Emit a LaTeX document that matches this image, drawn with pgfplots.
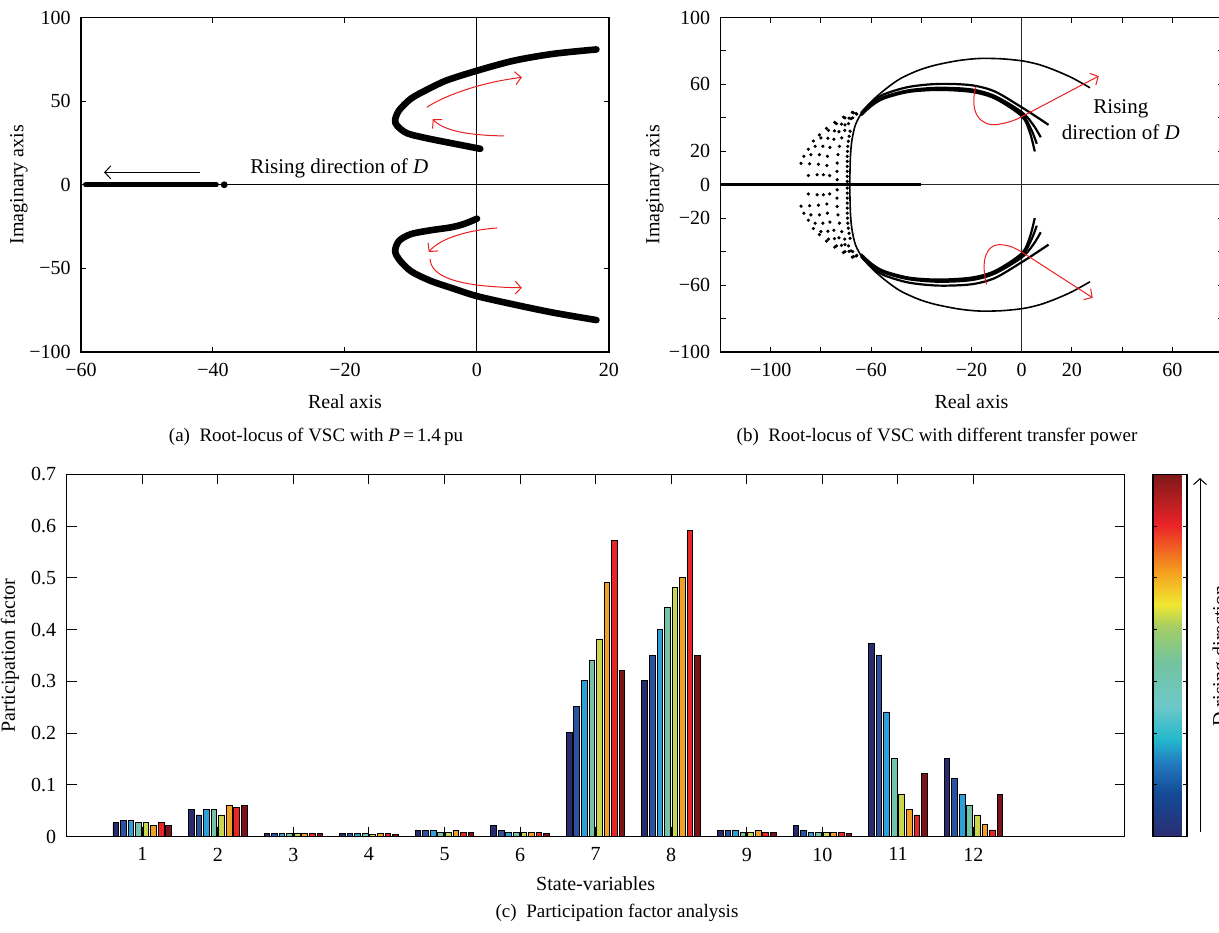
\documentclass[border=0pt]{standalone}
\usepackage{fontspec}
\setmainfont{Liberation Serif}
\usepackage{pgfplots}
\pgfplotsset{compat=1.18}
\usepackage{pgfplotstable}
\usetikzlibrary{arrows.meta}

\definecolor{c1}{RGB}{40,44,110}
\definecolor{c2}{RGB}{42,82,160}
\definecolor{c3}{RGB}{45,160,215}
\definecolor{c4}{RGB}{115,196,168}
\definecolor{c5}{RGB}{200,215,75}
\definecolor{c6}{RGB}{243,160,40}
\definecolor{c7}{RGB}{232,38,38}
\definecolor{c8}{RGB}{122,20,24}
\definecolor{annred}{RGB}{235,30,30}

\pgfplotstableread{
x s1 s2 s3 s4 s5 s6 s7 s8
1 0.027 0.031 0.031 0.027 0.027 0.022 0.027 0.022
2 0.052 0.042 0.052 0.052 0.042 0.061 0.057 0.061
3 0.007 0.007 0.007 0.007 0.007 0.007 0.007 0.007
4 0.007 0.007 0.007 0.007 0.004 0.007 0.007 0.005
5 0.012 0.012 0.012 0.009 0.009 0.012 0.009 0.009
6 0.022 0.012 0.009 0.009 0.009 0.009 0.009 0.007
7 0.202 0.251 0.302 0.341 0.382 0.491 0.572 0.321
8 0.302 0.350 0.401 0.443 0.482 0.501 0.591 0.350
9 0.012 0.012 0.012 0.009 0.009 0.012 0.009 0.009
10 0.022 0.012 0.009 0.009 0.009 0.009 0.009 0.007
11 0.373 0.350 0.241 0.151 0.081 0.052 0.042 0.122
12 0.151 0.112 0.081 0.061 0.042 0.023 0.013 0.081
}\pfdata

\tikzset{ann/.style={annred, line width=0.5pt, -{Straight Barb[length=3pt,width=6.5pt]}}}
\pgfplotsset{
  colormap={pfmap}{rgb255(0cm)=(43,45,115); rgb255(12cm)=(20,75,150); rgb255(20cm)=(35,120,190); rgb255(27cm)=(35,185,205); rgb255(36cm)=(110,200,200); rgb255(48cm)=(115,195,160); rgb255(58cm)=(165,205,100); rgb255(64cm)=(240,232,50); rgb255(73cm)=(245,160,30); rgb255(86cm)=(235,35,40); rgb255(100cm)=(125,25,25)},
  base/.style={scale only axis, anchor=south west,
    axis line style={line width=0.6pt},
    tick style={line width=0.5pt, black},
    major tick length=2.5pt,
    tick label style={font=\fontsize{10}{12}\selectfont},
    label style={font=\fontsize{10}{12}\selectfont},
    xticklabel style={yshift=-2pt},
    yticklabel style={xshift=-1.7pt}},
  dotmark/.style={only marks, mark=*, mark size=0.6pt, mark options={fill=black, draw=none}}
}

\begin{document}
\begin{tikzpicture}
\useasboundingbox (0,0) rectangle (609.5pt,-466pt);

% ---------------- (a) ----------------
\begin{axis}[base, at={(40.5pt,-176pt)}, width=264pt, height=167.25pt,
  xmin=-60, xmax=20, ymin=-100, ymax=100,
  xtick={-60,-40,-20,0,20}, xticklabels={−60,−40,−20,0,20},
  ytick={-100,-50,0,50,100}, yticklabels={−100,−50,0,50,100},
  xlabel={Real axis}, ylabel={Imaginary axis},
  xlabel style={at={(axis description cs:0.5,-0.1495)}, anchor=center},
  ylabel style={at={(axis description cs:-0.1174,0.5)}, anchor=center}]
\addplot[line width=0.5pt, black] coordinates {(-60,0) (20,0)};
\addplot[line width=0.5pt, black] coordinates {(0,-100) (0,100)};
\addplot[line width=2.6pt, black, line cap=round] coordinates {(-59.3,0) (-39.5,0)};
\addplot[only marks, mark=*, mark size=1.5pt, mark options={fill=black, draw=none}] coordinates {(-38.3,0)};
\addplot[line width=3.3pt, black, smooth, line cap=round] coordinates {
(0.5,21.5) (-3.4,24.5) (-7.6,27.8) (-10.6,30.8) (-12.1,35.3) (-12.4,38.8) (-11.8,44.5) (-10,51.5) (-7.6,56.8) (-4.6,62.4) (0,68.2) (5.6,74.2) (11.6,78.3) (18.1,80.9)};
\addplot[line width=3.3pt, black, smooth, line cap=round] coordinates {
(0,-20.3) (-2,-23.5) (-4,-25.5) (-7,-27.2) (-10,-29.5) (-11.8,-33.5) (-12.4,-39.5) (-11.8,-44.7) (-10,-51.7) (-7,-57.5) (-3.4,-62.3) (0,-66.6) (5.6,-71.6) (11.6,-76.5) (18.1,-80.9)};
\draw[line width=0.5pt, -{Straight Barb[length=3pt,width=6.5pt]}] (axis cs:-42,7.4) -- (axis cs:-56.5,7.4);
\node[anchor=west, inner sep=0pt, font=\fontsize{10.5}{12}\selectfont] at (axis cs:-34.4,10) {Rising direction of \textit{D}};
\draw[ann] (axis cs:-7.6,46.3) .. controls (axis cs:-5.5,52) and (axis cs:0,61) .. (axis cs:6.8,64.2);
\draw[ann] (axis cs:4.1,29.2) .. controls (axis cs:-1,29.5) and (axis cs:-5,32) .. (axis cs:-6.7,39.2);
\draw[ann] (axis cs:3.1,-25.8) .. controls (axis cs:-1,-27) and (axis cs:-5.5,-31.5) .. (axis cs:-7.3,-40.2);
\draw[ann] (axis cs:-7.1,-44.3) .. controls (axis cs:-7,-55) and (axis cs:-3,-61) .. (axis cs:6.8,-61.6);
\end{axis}

% ---------------- (b) ----------------
\begin{axis}[base, at={(360.25pt,-176pt)}, width=251pt, height=167.25pt,
  xmin=-120, xmax=80, ymin=-100, ymax=100,
  xtick={-120,-100,...,80}, xticklabels={,−100,,−60,,−20,0,20,,60,},
  ytick={-100,-80,...,100}, yticklabels={−100,,−60,,−20,0,20,,60,,100},
  xlabel={Real axis}, ylabel={Imaginary axis},
  xlabel style={at={(axis description cs:0.5,-0.1495)}, anchor=center},
  ylabel style={at={(axis description cs:-0.1305,0.5)}, anchor=center}]
\addplot[line width=0.5pt, black!85] coordinates {(-120,0) (80,0)};
\addplot[line width=0.5pt, black!85] coordinates {(0,-100) (0,100)};
\addplot[line width=1.4pt, black] coordinates {(-120,0) (-40,0)};
% outer locus
\addplot[line width=0.8pt, black, smooth] coordinates {
(27.2,58) (20,64) (13,68.6) (7,71.8) (0.5,74) (-8,75.3) (-16.9,75.5) (-25,74.3) (-34.2,71.6) (-41,68.5) (-48.3,63.5) (-54,57.5) (-59.4,50.5) (-63.5,43.5) (-66.2,36) (-67.6,27) (-68.2,18) (-68.4,9) (-68.5,0) (-68.4,-9) (-68.2,-18) (-67.6,-27) (-66.2,-36) (-63.5,-43.5) (-59.4,-50.5) (-54,-57.5) (-48.3,-63.5) (-41,-68.5) (-34.2,-71.6) (-25,-74.3) (-16.9,-75.5) (-8,-75.3) (0.5,-74) (7,-71.8) (13,-68.6) (20,-64) (27.2,-58)};
% inner loci, upper
\addplot[line width=1.1pt, black, smooth] coordinates {(-64,43) (-60,49) (-55,54) (-45,58.5) (-33,60.3) (-20,59.5) (-10.6,55.7) (0,46.3) (5.5,41) (10.7,35.8)};
\addplot[line width=1.1pt, black, smooth] coordinates {(-64,42.5) (-60,48) (-55,52.5) (-45,56.5) (-33,58) (-20,57) (-10.6,53) (0,43.5) (4.5,36) (7.6,28.4)};
\addplot[line width=1.1pt, black, smooth] coordinates {(-64,42) (-60,47.5) (-55,52) (-45,56) (-33,57.4) (-20,56.3) (-10.6,52.3) (0,42.3) (3.8,33) (6,24.5)};
\addplot[line width=1.1pt, black, smooth] coordinates {(-64,41.5) (-60,47) (-55,51.5) (-45,55.5) (-33,56.7) (-20,55.5) (-10.6,51.5) (0,41) (3.3,31) (5.2,19.9)};
% inner loci, lower
\addplot[line width=1.1pt, black, smooth] coordinates {(-64,-43) (-60,-49) (-55,-54) (-45,-58.5) (-33,-60.3) (-20,-59.5) (-10.6,-55.7) (0,-46.3) (5.5,-41) (10.7,-35.8)};
\addplot[line width=1.1pt, black, smooth] coordinates {(-64,-42.5) (-60,-48) (-55,-52.5) (-45,-56.5) (-33,-58) (-20,-57) (-10.6,-53) (0,-43.5) (4.5,-36) (7.6,-28.4)};
\addplot[line width=1.1pt, black, smooth] coordinates {(-64,-42) (-60,-47.5) (-55,-52) (-45,-56) (-33,-57.4) (-20,-56.3) (-10.6,-52.3) (0,-42.3) (3.8,-33) (6,-24.5)};
\addplot[line width=1.1pt, black, smooth] coordinates {(-64,-41.5) (-60,-47) (-55,-51.5) (-45,-55.5) (-33,-56.7) (-20,-55.5) (-10.6,-51.5) (0,-41) (3.3,-31) (5.2,-19.9)};
% sparse dotted branches
\addplot[dotmark] coordinates {
(-85,5.5) (-87.9,12.8) (-86.8,17) (-85,21.2) (-83,26.2) (-80.6,29.8) (-77.8,33.7) (-74.5,37.3) (-71,40.5) (-67.5,43.3)
(-81.5,6) (-84.5,12.5) (-84,18) (-82.3,23) (-80,28) (-77,32.5) (-73.8,36.5) (-70.4,40) (-67,43)
(-79,6) (-81,12.2) (-80.6,18) (-79.2,23) (-77.2,27.8) (-74.6,32.2) (-71.8,36.2) (-68.8,39.8) (-66,42.6)
(-76.5,5.5) (-77.6,11.5) (-77.4,17) (-76.4,22.3) (-74.8,27.2) (-72.8,31.7) (-70.4,35.8) (-68,39.5) (-65.7,42.2)
(-73.5,3) (-73.6,8) (-73.5,13) (-73.2,18) (-72.6,23) (-71.7,28) (-70.5,32.5) (-69,36.5) (-67.3,40)
(-69.5,2) (-69.5,5) (-69.5,8) (-69.5,11) (-69.5,14) (-69.5,17) (-69.4,20) (-69.3,23) (-69.1,26) (-68.8,29) (-68.4,32)
(-85,-5.5) (-87.9,-12.8) (-86.8,-17) (-85,-21.2) (-83,-26.2) (-80.6,-29.8) (-77.8,-33.7) (-74.5,-37.3) (-71,-40.5) (-67.5,-43.3)
(-81.5,-6) (-84.5,-12.5) (-84,-18) (-82.3,-23) (-80,-28) (-77,-32.5) (-73.8,-36.5) (-70.4,-40) (-67,-43)
(-79,-6) (-81,-12.2) (-80.6,-18) (-79.2,-23) (-77.2,-27.8) (-74.6,-32.2) (-71.8,-36.2) (-68.8,-39.8) (-66,-42.6)
(-76.5,-5.5) (-77.6,-11.5) (-77.4,-17) (-76.4,-22.3) (-74.8,-27.2) (-72.8,-31.7) (-70.4,-35.8) (-68,-39.5) (-65.7,-42.2)
(-73.5,-3) (-73.6,-8) (-73.5,-13) (-73.2,-18) (-72.6,-23) (-71.7,-28) (-70.5,-32.5) (-69,-36.5) (-67.3,-40)
(-69.5,-2) (-69.5,-5) (-69.5,-8) (-69.5,-11) (-69.5,-14) (-69.5,-17) (-69.4,-20) (-69.3,-23) (-69.1,-26) (-68.8,-29) (-68.4,-32)};
\draw[ann] (axis cs:-18.2,59) .. controls (axis cs:-21,44) and (axis cs:-17,35) .. (axis cs:-10,36) .. controls (axis cs:-6,36.8) and (axis cs:-3,38.3) .. (axis cs:0,40.7) -- (axis cs:30.7,65);
\draw[ann] (axis cs:-14,-59.6) .. controls (axis cs:-16.5,-45) and (axis cs:-14,-36) .. (axis cs:-9,-35.8) .. controls (axis cs:-5,-36) and (axis cs:-3,-37.5) .. (axis cs:0,-40.2) -- (axis cs:28.3,-67.6);
\node[align=center, inner sep=0pt, font=\fontsize{10.5}{12.85}\selectfont] at (axis cs:39.5,39) {Rising\\direction of \textit{D}};
\end{axis}

% ---------------- (c) ----------------
\begin{axis}[base, at={(33.35pt,-418.35pt)}, width=528.95pt, height=181.2pt,
  xmin=0, xmax=14, ymin=0, ymax=0.7,
  major tick length=5pt,
  xtick={1,2,3,4,5,6,7,8,9,10,11,12}, xticklabels={1,2,3,4,5,6,7,8,9,10,11,12},
  ytick={0,0.1,0.2,0.3,0.4,0.5,0.6,0.7}, yticklabels={0,0.1,0.2,0.3,0.4,0.5,0.6,0.7},
  xlabel={State-variables}, ylabel={Participation factor},
  xlabel style={at={(axis description cs:0.5,-0.1305)}, anchor=center},
  ylabel style={at={(axis description cs:-0.0536,0.5)}, anchor=center},
  colormap name=pfmap, point meta min=0, point meta max=0.7,
  colorbar,
  colorbar style={at={(parent axis.north east)}, anchor=north west, xshift=5.7pt, width=17pt,
    ytick={0.1,0.2,0.3,0.4,0.5,0.6}, yticklabels={,,,,,}, ytick pos=both,
    major tick length=1.8pt, axis line style={line width=0.6pt}, tick style={line width=0.5pt, black}}]
\addplot[ybar, bar width=0.075, bar shift=-0.35, fill=c1, draw=black, line width=0.45pt] table[x=x, y=s1] {\pfdata};
\addplot[ybar, bar width=0.075, bar shift=-0.25, fill=c2, draw=black, line width=0.45pt] table[x=x, y=s2] {\pfdata};
\addplot[ybar, bar width=0.075, bar shift=-0.15, fill=c3, draw=black, line width=0.45pt] table[x=x, y=s3] {\pfdata};
\addplot[ybar, bar width=0.075, bar shift=-0.05, fill=c4, draw=black, line width=0.45pt] table[x=x, y=s4] {\pfdata};
\addplot[ybar, bar width=0.075, bar shift=0.05, fill=c5, draw=black, line width=0.45pt] table[x=x, y=s5] {\pfdata};
\addplot[ybar, bar width=0.075, bar shift=0.15, fill=c6, draw=black, line width=0.45pt] table[x=x, y=s6] {\pfdata};
\addplot[ybar, bar width=0.075, bar shift=0.25, fill=c7, draw=black, line width=0.45pt] table[x=x, y=s7] {\pfdata};
\addplot[ybar, bar width=0.075, bar shift=0.35, fill=c8, draw=black, line width=0.45pt] table[x=x, y=s8] {\pfdata};
\end{axis}

\draw[line width=0.5pt, -{Straight Barb[length=3pt,width=6.5pt]}] (600pt,-416pt) -- (600pt,-239pt);
\node[rotate=90, anchor=north, inner sep=0pt, font=\fontsize{10}{12}\selectfont] at (606pt,-328pt) {D rising direction};

% captions
\node[font=\fontsize{9.5}{11}\selectfont] at (158pt,-218.5pt) {(a)\enspace Root-locus of VSC with \textit{P}\,=\,1.4\,pu};
\node[font=\fontsize{9.5}{11}\selectfont] at (468.5pt,-218.5pt) {(b)\enspace Root-locus of VSC with different transfer power};
\node[font=\fontsize{9.5}{11}\selectfont] at (308.5pt,-456.5pt) {(c)\enspace Participation factor analysis};
\end{tikzpicture}
\end{document}
